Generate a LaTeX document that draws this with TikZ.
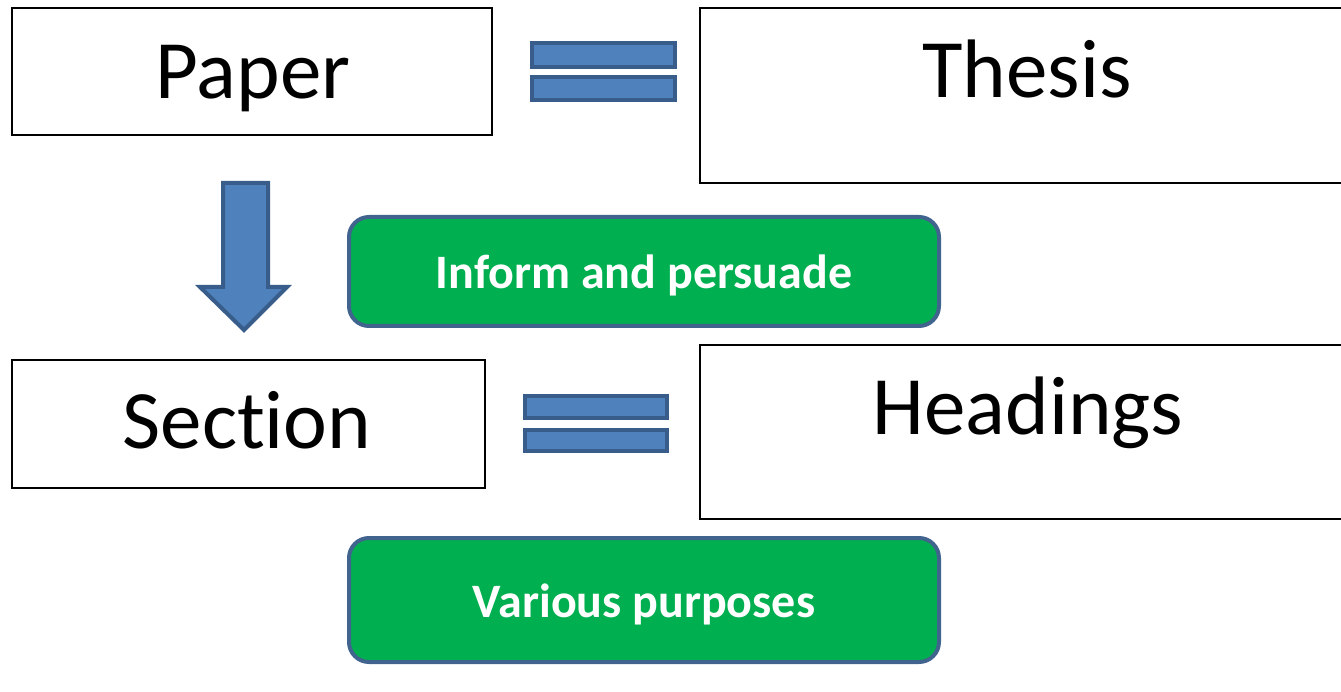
\documentclass[tikz,border=0pt]{standalone}
\usepackage{fontspec}
\setmainfont{Carlito}[Ligatures={NoCommon}]
\definecolor{eqblue}{HTML}{4F81BD}
\definecolor{eqedge}{HTML}{385D8A}
\definecolor{pgreen}{HTML}{00B050}
\definecolor{gedge}{HTML}{41648F}
\begin{document}
\begin{tikzpicture}[x=1pt,y=-1pt,
  wbox/.style={draw=black,line width=2pt,fill=white},
  bigtxt/.style={font=\fontsize{83}{90}\selectfont,anchor=base,inner sep=0pt},
  gbox/.style={draw=gedge,line width=4pt,fill=pgreen,rounded corners=20pt},
  gtxt/.style={font=\fontsize{48}{54}\selectfont\bfseries,text=white,anchor=base,inner sep=0pt},
  eqbar/.style={draw=eqedge,line width=4pt,fill=eqblue}]
\useasboundingbox (0,0) rectangle (1341,692);
% boxes
\draw[wbox] (12,8) rectangle (492,135);
\node[bigtxt] (paper) at (253,99) {Paper};
\draw[wbox] (700,8) rectangle (1350,183);
\node[bigtxt] (thesis) at (1027,98) {Thesis};
\draw[wbox] (12,360) rectangle (485,488);
\node[bigtxt] (section) at (247,448) {Section};
\draw[wbox] (700,345) rectangle (1350,519);
\node[bigtxt] (headings) at (1028,434) {Headings};
% equal signs
\draw[eqbar] (532,43) rectangle (675,67);
\draw[eqbar] (532,77) rectangle (675,100);
\draw[eqbar] (525,396) rectangle (667,418);
\draw[eqbar] (525,430) rectangle (667,451);
% down arrow
\draw[eqbar,line join=miter] (223,183) -- (268,183) -- (268,287) -- (287,287) -- (244,330) -- (200,287) -- (223,287) -- cycle;
% green boxes
\draw[gbox] (349,217) rectangle (939,326);
\node[gtxt] (inform) at (644,289) {Inform and persuade};
\draw[gbox] (349,538) rectangle (939,662);
\node[gtxt] (various) at (644,617) {Various purposes};
\end{tikzpicture}
\end{document}
